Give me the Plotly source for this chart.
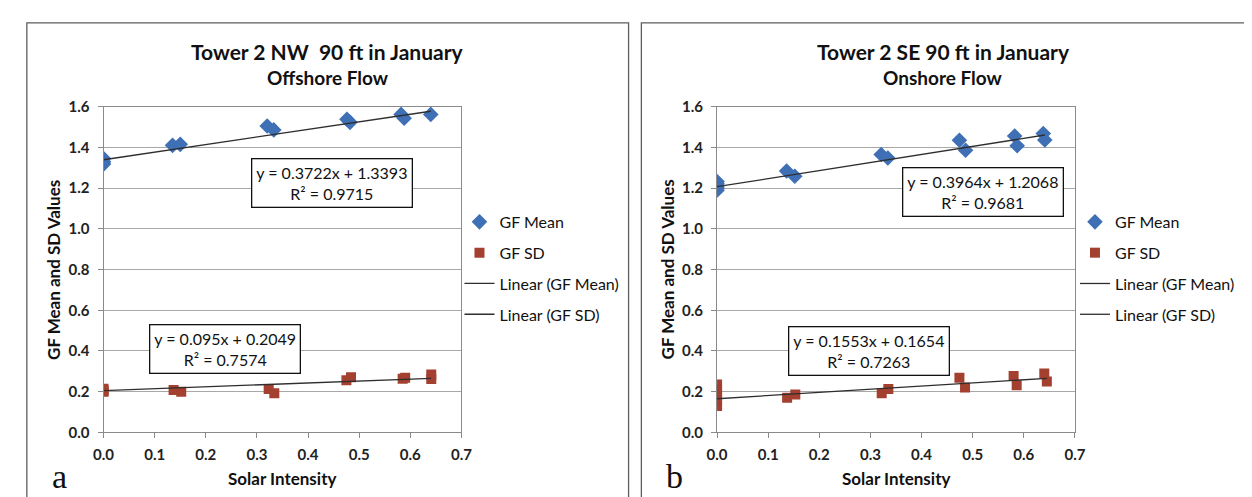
import plotly.graph_objects as go

# ---------------- data ----------------
left_mean_x = [0, 0, 0, 0.135, 0.150, 0.320, 0.333, 0.476, 0.482, 0.582, 0.588, 0.640]
left_mean_y = [1.345, 1.330, 1.318, 1.410, 1.415, 1.505, 1.486, 1.538, 1.523, 1.562, 1.543, 1.562]
left_sd_x = [0, 0, 0, 0.137, 0.152, 0.323, 0.334, 0.475, 0.484, 0.585, 0.590, 0.641, 0.641]
left_sd_y = [0.215, 0.205, 0.200, 0.208, 0.200, 0.213, 0.192, 0.256, 0.271, 0.264, 0.268, 0.285, 0.262]

right_mean_x = [0, 0, 0, 0, 0, 0.136, 0.152, 0.321, 0.334, 0.474, 0.486, 0.582, 0.587, 0.638, 0.641]
right_mean_y = [1.232, 1.222, 1.210, 1.200, 1.190, 1.284, 1.258, 1.365, 1.348, 1.435, 1.386, 1.456, 1.408, 1.468, 1.436]
right_sd_x = [0, 0, 0, 0, 0, 0.137, 0.153, 0.322, 0.335, 0.474, 0.485, 0.580, 0.586, 0.640, 0.645]
right_sd_y = [0.235, 0.210, 0.185, 0.160, 0.130, 0.170, 0.186, 0.193, 0.213, 0.268, 0.221, 0.277, 0.232, 0.290, 0.250]

# trendline equations (slope, intercept, R^2) as printed on chart
left_mean_fit = (0.3722, 1.3393, 0.9715)
left_sd_fit = (0.095, 0.2049, 0.7574)
right_mean_fit = (0.3964, 1.2068, 0.9681)
right_sd_fit = (0.1553, 0.1654, 0.7263)

titles = ["Tower 2 NW  90 ft in January", "Tower 2 SE 90 ft in January"]
subtitles = ["Offshore Flow", "Onshore Flow"]
panel_labels = ["a", "b"]
x_ticks = [0.0, 0.1, 0.2, 0.3, 0.4, 0.5, 0.6, 0.7]
y_ticks = [0.0, 0.2, 0.4, 0.6, 0.8, 1.0, 1.2, 1.4, 1.6]

# ---------------- style ----------------
W, H = 1252, 497
BLUE = "#3F6FB5"
RED = "#A3402F"
LINE = "#2E2E2E"
GRID = "#A8A8A8"
FONT = "Lato"

def px(x):
    return x / W

def py(y):
    return 1 - y / H

fig = go.Figure()

def fit_line(xs, fit):
    x0, x1 = min(xs), max(xs)
    return [x0, x1], [fit[0] * x0 + fit[1], fit[0] * x1 + fit[1]]

panels = [
    dict(mx=left_mean_x, my=left_mean_y, sx=left_sd_x, sy=left_sd_y,
         mf=left_mean_fit, sf=left_sd_fit, xa="x", ya="y", lg="legend"),
    dict(mx=right_mean_x, my=right_mean_y, sx=right_sd_x, sy=right_sd_y,
         mf=right_mean_fit, sf=right_sd_fit, xa="x2", ya="y2", lg="legend2"),
]

for i, p in enumerate(panels):
    fig.add_trace(go.Scatter(x=p["mx"], y=p["my"], mode="markers", name="GF Mean",
                             marker=dict(symbol="diamond", size=12, color=BLUE),
                             xaxis=p["xa"], yaxis=p["ya"], legend=p["lg"],
                             legendgroup=f"m{i}", legendrank=1))
    fig.add_trace(go.Scatter(x=p["sx"], y=p["sy"], mode="markers", name="GF SD",
                             marker=dict(symbol="square", size=10, color=RED),
                             xaxis=p["xa"], yaxis=p["ya"], legend=p["lg"],
                             legendgroup=f"s{i}", legendrank=2))
    lx, ly = fit_line(p["mx"], p["mf"])
    fig.add_trace(go.Scatter(x=lx, y=ly, mode="lines", name="Linear (GF Mean)",
                             line=dict(color=LINE, width=1.3),
                             xaxis=p["xa"], yaxis=p["ya"], legend=p["lg"],
                             legendgroup=f"lm{i}", legendrank=3))
    lx, ly = fit_line(p["sx"], p["sf"])
    fig.add_trace(go.Scatter(x=lx, y=ly, mode="lines", name="Linear (GF SD)",
                             line=dict(color=LINE, width=1.3),
                             xaxis=p["xa"], yaxis=p["ya"], legend=p["lg"],
                             legendgroup=f"ls{i}", legendrank=4))

axis_common = dict(
    showline=True, linecolor="#8A8A8A", linewidth=1, mirror=True,
    ticks="outside", ticklen=5, tickcolor="#8A8A8A",
    tickfont=dict(family=FONT, size=15, color="#222222", weight="bold"),
    tickformat=".1f", zeroline=False,
)
xdom = [[px(87), px(451)], [px(711), px(1075)]]
ydom = [py(430), py(92)]

legend_common = dict(xanchor="left", yanchor="top", traceorder="grouped",
                     tracegroupgap=7, bgcolor="rgba(0,0,0,0)",
                     font=dict(family=FONT, size=16, color="#111111"))

fig.update_layout(
    width=W, height=H, margin=dict(l=0, r=0, t=0, b=0),
    paper_bgcolor="white", plot_bgcolor="white",
    showlegend=True,
    xaxis=dict(domain=xdom[0], range=[0, 0.7], tickvals=x_ticks, showgrid=False,
               anchor="y", ticklabelstandoff=4, **axis_common),
    yaxis=dict(domain=ydom, range=[0, 1.6], tickvals=y_ticks, showgrid=True,
               gridcolor=GRID, gridwidth=1, anchor="x", ticklabelstandoff=5, **axis_common),
    xaxis2=dict(domain=xdom[1], range=[0, 0.7], tickvals=x_ticks, showgrid=False,
                anchor="y2", ticklabelstandoff=4, **axis_common),
    yaxis2=dict(domain=ydom, range=[0, 1.6], tickvals=y_ticks, showgrid=True,
                gridcolor=GRID, gridwidth=1, anchor="x2", ticklabelstandoff=5, **axis_common),
    legend=dict(x=px(449), y=py(194), **legend_common),
    legend2=dict(x=px(1075), y=py(194), **legend_common),
)

# panel frames
frames = [(9, 5, 621, 500), (634, 5, 1249, 500)]
for (x0, y0, x1, y1) in frames:
    fig.add_shape(type="rect", xref="paper", yref="paper",
                  x0=px(x0), x1=px(x1), y0=py(y1), y1=py(y0),
                  line=dict(color="#5E5E5E", width=1.3), fillcolor="rgba(0,0,0,0)",
                  layer="below")

ann = []
title_cx = [315, 941]
plot_cx = [269, 893]
ytitle_x = [36, 661]
label_x = [42, 668]

def paper_ann(x, y, text, font, **kw):
    return dict(x=px(x), y=py(y), xref="paper", yref="paper", text=text,
                showarrow=False, xanchor="center", yanchor="middle", font=font, **kw)

for i in range(2):
    ann.append(paper_ann(title_cx[i], 35, titles[i],
                         dict(family=FONT, size=21, color="#111111", weight="bold")))
    ann.append(paper_ann(title_cx[i], 62, subtitles[i],
                         dict(family=FONT, size=19, color="#111111", weight="bold")))
    ann.append(paper_ann(plot_cx[i], 478, "Solar Intensity",
                         dict(family=FONT, size=17, color="#111111", weight="bold")))
    ann.append(paper_ann(ytitle_x[i], 261, "GF Mean and SD Values",
                         dict(family=FONT, size=17, color="#111111", weight="bold"),
                         textangle=-90))
    ann.append(paper_ann(label_x[i], 476, panel_labels[i],
                         dict(family="Liberation Serif", size=34, color="#111111")))

def eq_text(fit):
    return f"y = {fit[0]:g}x + {fit[1]:g}<br>R² = {fit[2]:g}"

eq_boxes = [
    ("x", "y", 0.447, 1.227, left_mean_fit),
    ("x", "y", 0.238, 0.408, left_sd_fit),
    ("x2", "y2", 0.520, 1.180, right_mean_fit),
    ("x2", "y2", 0.298, 0.401, right_sd_fit),
]
for xa, ya, cx, cy, fit in eq_boxes:
    ann.append(dict(x=cx, y=cy, xref=xa, yref=ya, text=eq_text(fit), showarrow=False,
                    xanchor="center", yanchor="middle",
                    bgcolor="white", bordercolor="#111111", borderwidth=1.3, borderpad=4,
                    font=dict(family=FONT, size=16, color="#111111")))

fig.update_layout(annotations=ann)
fig.write_html("out.html")
